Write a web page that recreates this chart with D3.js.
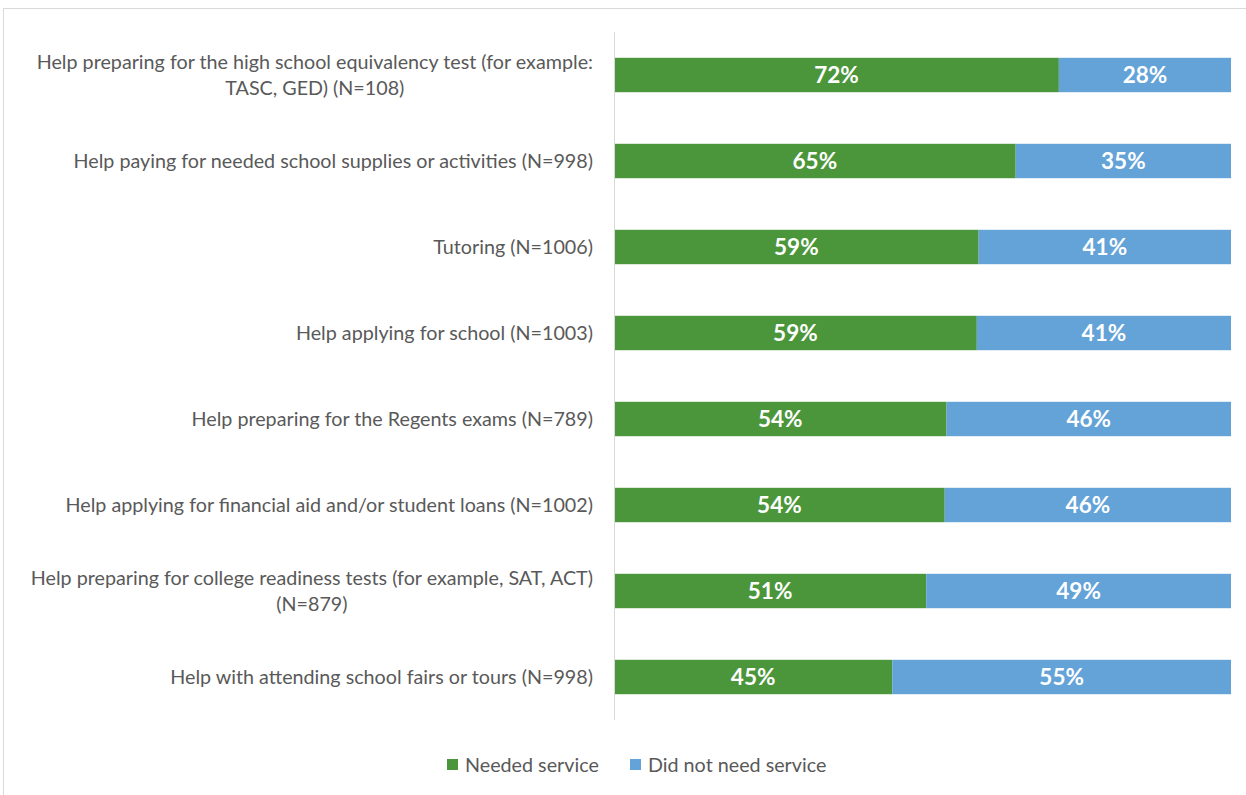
<!DOCTYPE html>
<html>
<head>
<meta charset="utf-8">
<script src="https://cdn.jsdelivr.net/npm/d3@7"></script>
<style>
  html, body { margin: 0; padding: 0; background: #fff; }
  svg { display: block; }
</style>
</head>
<body>
<svg id="chart" width="1246" height="795"></svg>
<script>
// ---- data ----
const categories = [
  ["Help preparing for the high school equivalency test (for example:", "TASC, GED) (N=108)"],
  ["Help paying for needed school supplies or activities (N=998)"],
  ["Tutoring (N=1006)"],
  ["Help applying for school (N=1003)"],
  ["Help preparing for the Regents exams (N=789)"],
  ["Help applying for financial aid and/or student loans (N=1002)"],
  ["Help preparing for college readiness tests (for example, SAT, ACT)", "(N=879)"],
  ["Help with attending school fairs or tours (N=998)"]
];
const needed    = [72.1, 65.1, 59.1, 58.8, 53.9, 53.6, 50.6, 45.1];
const notNeeded = [27.9, 34.9, 40.9, 41.2, 46.1, 46.4, 49.4, 54.9];
const neededLabels    = ["72%", "65%", "59%", "59%", "54%", "54%", "51%", "45%"];
const notNeededLabels = ["28%", "35%", "41%", "41%", "46%", "46%", "49%", "55%"];
const seriesNames = ["Needed service", "Did not need service"];
const colors = ["#4b963a", "#64a3d8"];

// ---- layout ----
const svg = d3.select("#chart");
const W = 1246, H = 795;
const plot = { left: 614, right: 1231, top: 32, bottom: 720 };
const textColor = "#595959";
const labelFont = "Lato, 'Open Sans', sans-serif";

// frame
svg.append("rect")
  .attr("x", 3.5).attr("y", 8.5)
  .attr("width", W + 10).attr("height", H)
  .attr("fill", "#fff").attr("stroke", "#d9d9d9").attr("stroke-width", 1);

const idx = d3.range(categories.length);
const y = d3.scaleBand().domain(idx).range([plot.top, plot.bottom])
  .paddingInner(0.6).paddingOuter(0.3);
const x = d3.scaleLinear().domain([0, 100]).range([plot.left, plot.right]);

const rows = idx.map(i => ({ i, a: needed[i], b: notNeeded[i] }));

// bars
const g = svg.append("g");
g.selectAll("rect.need").data(rows).join("rect")
  .attr("class", "need")
  .attr("x", d => x(0)).attr("y", d => y(d.i))
  .attr("width", d => x(d.a) - x(0)).attr("height", y.bandwidth())
  .attr("fill", colors[0]);
g.selectAll("rect.not").data(rows).join("rect")
  .attr("class", "not")
  .attr("x", d => x(d.a)).attr("y", d => y(d.i))
  .attr("width", d => x(d.a + d.b) - x(d.a)).attr("height", y.bandwidth())
  .attr("fill", colors[1]);

// data labels
const dl = svg.append("g")
  .attr("font-family", labelFont).attr("font-weight", "bold")
  .attr("font-size", 22.5).attr("fill", "#fff").attr("text-anchor", "middle");
dl.selectAll("text.a").data(rows).join("text")
  .attr("x", d => (x(0) + x(d.a)) / 2)
  .attr("y", d => y(d.i) + y.bandwidth() / 2)
  .attr("dy", "0.36em")
  .text(d => neededLabels[d.i]);
dl.selectAll("text.b").data(rows).join("text")
  .attr("x", d => (x(d.a) + x(d.a + d.b)) / 2)
  .attr("y", d => y(d.i) + y.bandwidth() / 2)
  .attr("dy", "0.36em")
  .text(d => notNeededLabels[d.i]);

// axis line
const axis = d3.axisLeft(y).tickSize(0).tickFormat("");
svg.append("g").attr("transform", `translate(${plot.left},0)`).call(axis)
  .call(s => s.select(".domain").attr("stroke", "#d9d9d9").attr("d", `M0.5,${plot.top}V${plot.bottom}`));

// category labels: block right-aligned, lines centered within block
const labG = svg.append("g").attr("font-family", labelFont).attr("fill", textColor);
const probe = labG.append("text").attr("font-size", 17).text(categories[1][0]);
const pw = probe.node().getComputedTextLength();
probe.remove();
const fs = 17 * 520 / pw;
labG.attr("font-size", fs);
const labelRight = 593;
const lineH = 26;
rows.forEach(d => {
  const lines = categories[d.i];
  const cy = y(d.i) + y.bandwidth() / 2;
  const t = labG.append("text").attr("text-anchor", "middle");
  const spans = lines.map((ln, k) => t.append("tspan").text(ln)
      .attr("y", cy + (k - (lines.length - 1) / 2) * lineH).attr("dy", "0.35em"));
  const widths = spans.map(s => s.node().getComputedTextLength());
  const maxW = d3.max(widths);
  spans.forEach(s => s.attr("x", labelRight - maxW / 2));
});

// legend
const leg = svg.append("g").attr("font-family", labelFont).attr("font-size", fs * 1.0).attr("fill", textColor);
const legX = [447, 630];
seriesNames.forEach((nm, k) => {
  leg.append("rect").attr("x", legX[k]).attr("y", 759).attr("width", 11).attr("height", 11).attr("fill", colors[k]);
  leg.append("text").attr("x", legX[k] + 18).attr("y", 765).attr("dy", "0.35em").text(nm);
});
</script>
</body>
</html>
